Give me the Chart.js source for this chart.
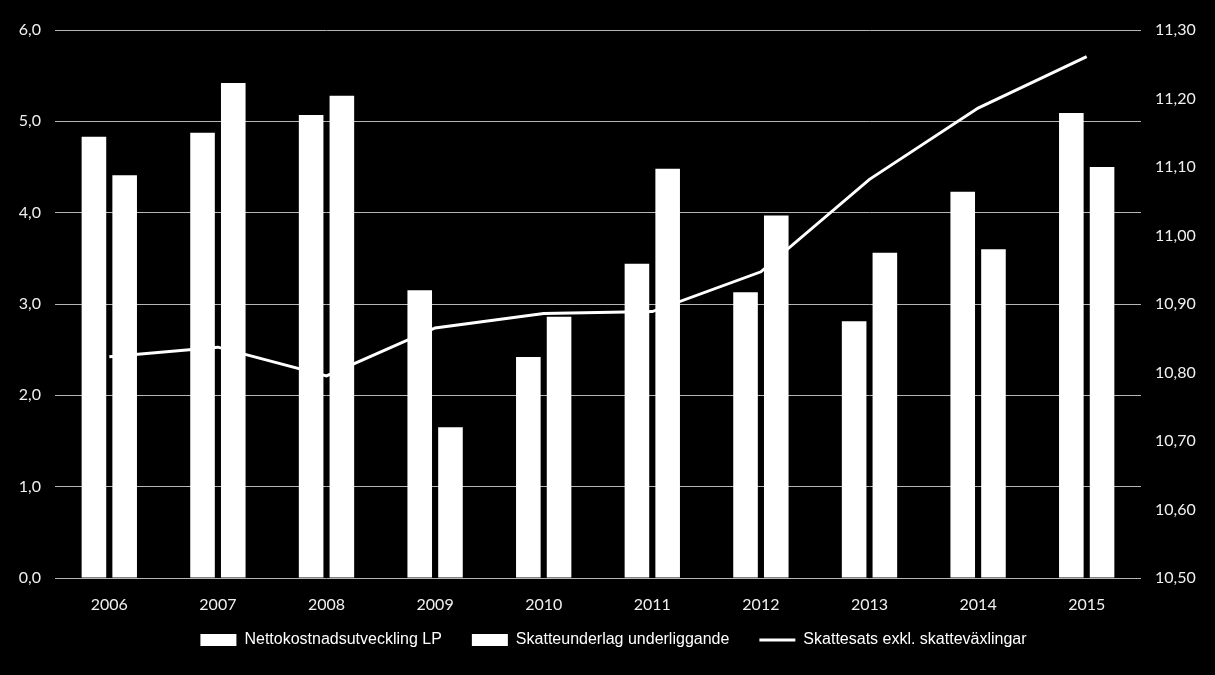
<!DOCTYPE html>
<html><head><meta charset="utf-8">
<script src="https://cdn.jsdelivr.net/npm/chart.js@4"></script>
<style>html,body{margin:0;padding:0;background:#000;}#wrap{width:1215px;height:675px;position:relative;}</style>
</head><body><div id="wrap"><canvas id="c"></canvas></div>
<script>
const years = ['2006','2007','2008','2009','2010','2011','2012','2013','2014','2015'];
const nettokostnad = [4.83, 4.875, 5.07, 3.15, 2.42, 3.44, 3.13, 2.81, 4.23, 5.09];
const skatteunderlag = [4.41, 5.42, 5.28, 1.65, 2.86, 4.48, 3.97, 3.56, 3.60, 4.50];
const skattesats = [10.823, 10.837, 10.795, 10.865, 10.886, 10.889, 10.947, 11.082, 11.186, 11.261];
const seriesNames = ['Nettokostnadsutveckling LP', 'Skatteunderlag underliggande', 'Skattesats exkl. skatteväxlingar'];
const leftRange = [0, 6, 1];
const rightRange = [10.5, 11.3, 0.1];

// legend: keep wide item spacing but a compact box, drawn slightly shifted
const LegendEl = Chart.Legend._element.prototype;
const origFit = LegendEl.fit;
LegendEl.fit = function(){ origFit.call(this); if (this.isHorizontal()) { this.height = 57; } };
const origDraw = LegendEl.draw;
LegendEl.draw = function(){
  const t = this.top, l = this.left, r = this.right;
  this.top = t - 16; this.left = l + 6; this.right = r + 6;
  origDraw.call(this);
  this.top = t; this.left = l; this.right = r;
};

const tickFont = {family: 'Lato, "Open Sans", sans-serif', size: 16};
const bg = {id:'bg', beforeDraw(c){const x=c.ctx;x.save();x.fillStyle='#000';x.fillRect(0,0,c.width,c.height);x.restore();}};

new Chart(document.getElementById('c'), {
  data: {
    labels: years,
    datasets: [
      {type:'bar', label: seriesNames[0], data: nettokostnad, backgroundColor:'#ffffff', borderWidth:0, yAxisID:'y', order:1,
       categoryPercentage:0.566, barPercentage:0.8, pointStyle:'rect'},
      {type:'bar', label: seriesNames[1], data: skatteunderlag, backgroundColor:'#ffffff', borderWidth:0, yAxisID:'y', order:1,
       categoryPercentage:0.566, barPercentage:0.8, pointStyle:'rect'},
      {type:'line', label: seriesNames[2], data: skattesats, borderColor:'#ffffff', backgroundColor:'#ffffff', borderWidth:3,
       pointRadius:0, tension:0, yAxisID:'y1', order:2, pointStyle:'line'}
    ]
  },
  options: {
    responsive:true, maintainAspectRatio:false, animation:false,
    layout:{padding:{top:30, left:0, right:0, bottom:0}},
    plugins:{
      tooltip:{enabled:false},
      legend:{position:'bottom', align:'center',
        labels:{usePointStyle:true, pointStyleWidth:36, boxHeight:12, color:'#ffffff', padding:30,
          font:{family:'"Liberation Sans Narrow", "Arial Narrow", sans-serif', size:16}}}
    },
    scales:{
      x:{grid:{display:false}, border:{display:false},
         ticks:{color:'#f0f0f0', font:tickFont, padding:9, maxRotation:0},
         afterFit(s){s.height = 40;}},
      y:{position:'left', min:leftRange[0], max:leftRange[1],
         grid:{color:'#b5b5b5', lineWidth:1, drawTicks:false}, border:{display:false},
         ticks:{stepSize:leftRange[2], color:'#f0f0f0', font:tickFont, padding:14,
                callback:v=>v.toFixed(1).replace('.',',')},
         afterFit(s){s.width = 55;}},
      y1:{position:'right', min:rightRange[0], max:rightRange[1],
         grid:{display:false, drawTicks:false}, border:{display:false},
         ticks:{stepSize:rightRange[2], color:'#f0f0f0', font:tickFont, padding:14,
                callback:v=>v.toFixed(2).replace('.',',')},
         afterFit(s){s.width = 74;}}
    }
  },
  plugins:[bg]
});
</script></body></html>
